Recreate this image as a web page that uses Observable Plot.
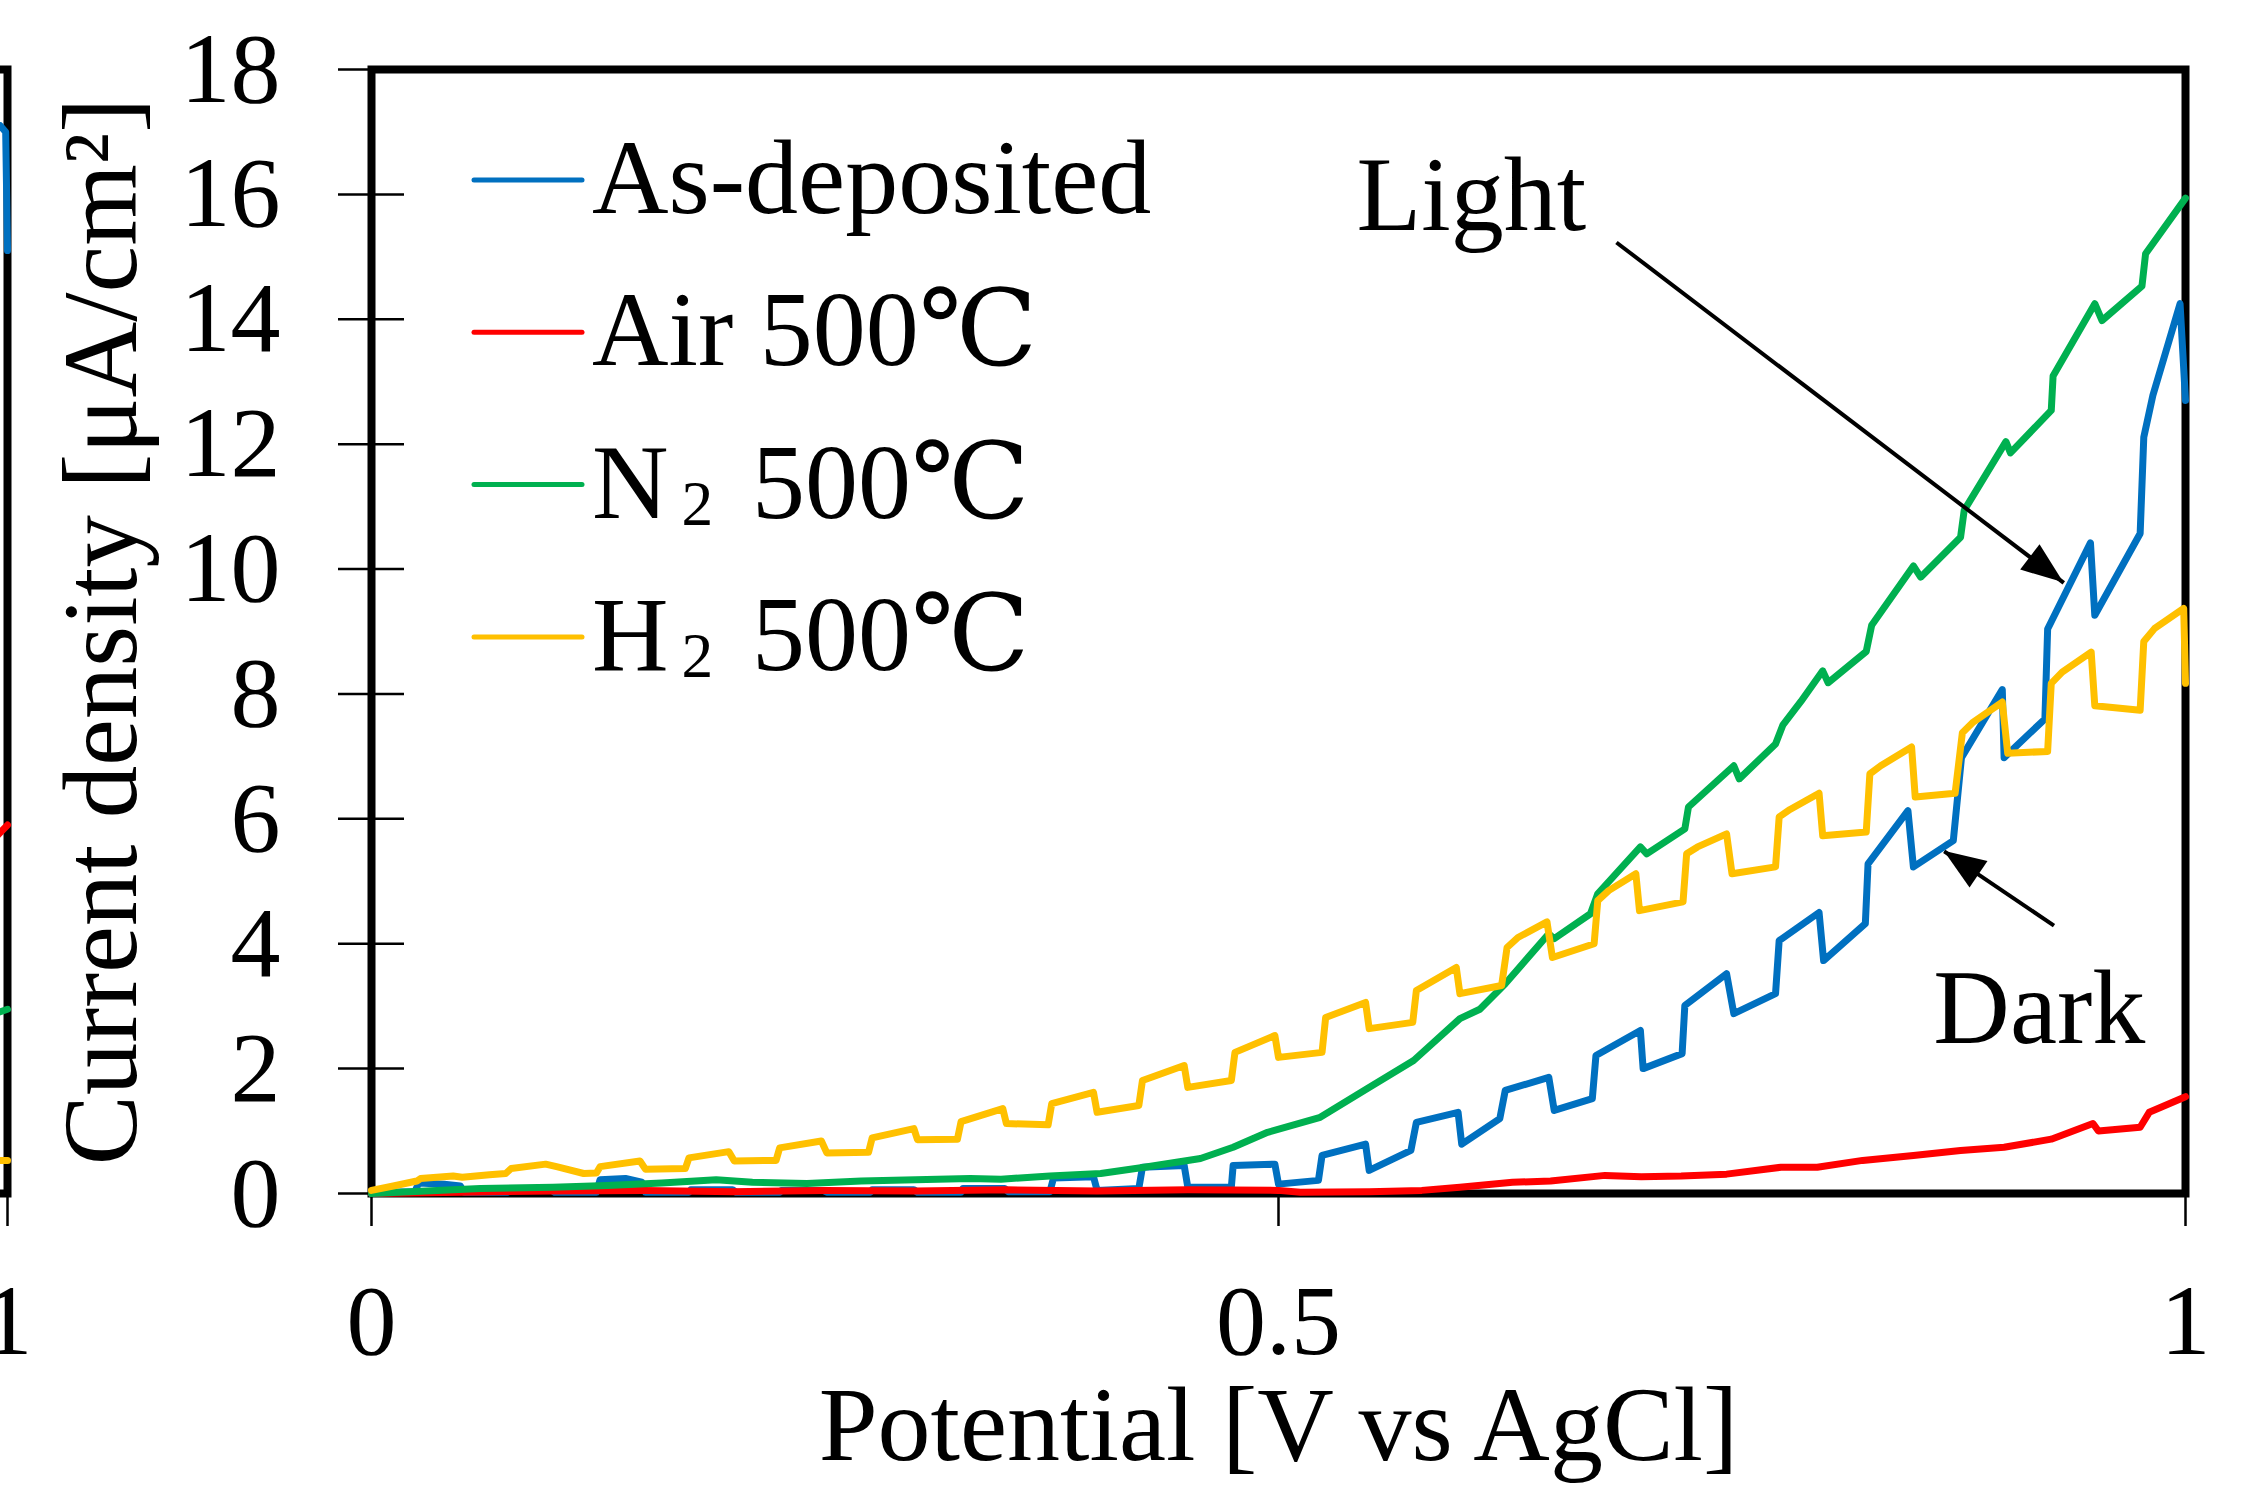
<!DOCTYPE html>
<html><head><meta charset="utf-8">
<script src="https://cdn.jsdelivr.net/npm/d3@7"></script>
<script src="https://cdn.jsdelivr.net/npm/@observablehq/plot@0.6"></script>
<style>
html,body{margin:0;padding:0;background:#fff;overflow:hidden;}
#wrap{position:relative;width:2254px;height:1485px;overflow:hidden;background:#fff;}
#wrap svg{position:absolute;top:0;left:0;}
</style></head><body><div id="wrap"></div>
<script>
// ---- data ----
const seriesNames = ["As-deposited", "Air 500℃", "N₂ 500℃", "H₂ 500℃"];
const seriesColors = ["#0070C0", "#FF0000", "#00B050", "#FFC000"];

// [potential V, current density µA/cm²]
const asDeposited = [
[0,0.0],[0.01,0.02],[0.024,0.03],[0.026,0.17],[0.04,0.15],[0.049,0.12],[0.051,0.02],
[0.075,0.02],[0.076,0.06],[0.099,0.06],[0.101,0.02],
[0.124,0.02],[0.126,0.22],[0.14,0.24],[0.149,0.18],[0.151,0.02],
[0.175,0.02],[0.176,0.06],[0.199,0.06],[0.201,0.02],
[0.225,0.02],[0.226,0.05],[0.249,0.05],[0.251,0.02],
[0.275,0.02],[0.276,0.06],[0.299,0.06],[0.301,0.02],
[0.325,0.02],[0.326,0.08],[0.349,0.08],[0.351,0.03],
[0.374,0.03],[0.376,0.25],[0.398,0.27],[0.4,0.05],
[0.423,0.08],[0.425,0.42],[0.448,0.45],[0.45,0.1],
[0.474,0.1],[0.475,0.45],[0.498,0.47],[0.5,0.15],
[0.522,0.21],[0.524,0.61],[0.548,0.79],[0.55,0.37],
[0.573,0.69],[0.576,1.14],[0.599,1.3],[0.601,0.79],
[0.622,1.2],[0.625,1.65],[0.649,1.86],[0.652,1.33],
[0.673,1.52],[0.675,2.21],[0.6995,2.61],[0.701,2.0],
[0.7225,2.24],[0.724,3.01],[0.747,3.52],[0.751,2.88],
[0.774,3.2],[0.776,4.05],[0.798,4.5],[0.8005,3.73],
[0.8235,4.32],[0.825,5.28],[0.847,6.13],[0.85,5.23],
[0.872,5.65],[0.8765,6.98],[0.899,8.07],[0.9,6.98],
[0.9225,7.6],[0.924,9.04],[0.9476,10.42],[0.95,9.26],
[0.975,10.57],[0.977,12.11],[0.982,12.78],[0.997,14.25],[1.0,12.7]
];
const air500 = [
[0,0.0],[0.05,0.02],[0.1,0.04],[0.15,0.05],[0.2,0.03],[0.25,0.05],[0.3,0.04],[0.35,0.06],
[0.4,0.04],[0.45,0.06],[0.5,0.05],[0.512,0.02],[0.55,0.03],[0.579,0.05],[0.6,0.1],
[0.629,0.18],[0.65,0.2],[0.68,0.29],[0.7,0.27],[0.722,0.28],[0.747,0.31],[0.777,0.42],
[0.797,0.42],[0.822,0.53],[0.85,0.61],[0.876,0.69],[0.9,0.74],[0.926,0.87],[0.949,1.12],
[0.952,1.0],[0.975,1.06],[0.98,1.3],[1.0,1.55]
];
const n2500 = [
[0,0.0],[0.03,0.04],[0.06,0.08],[0.1,0.1],[0.13,0.13],[0.16,0.17],[0.19,0.22],[0.21,0.18],
[0.24,0.16],[0.27,0.2],[0.3,0.22],[0.33,0.24],[0.347,0.23],[0.374,0.28],[0.402,0.32],
[0.426,0.42],[0.457,0.56],[0.475,0.74],[0.494,0.98],[0.523,1.22],[0.549,1.68],[0.5745,2.13],
[0.6,2.8],[0.611,2.95],[0.625,3.36],[0.649,4.16],[0.652,4.08],[0.672,4.48],[0.676,4.8],
[0.6995,5.55],[0.703,5.44],[0.724,5.84],[0.726,6.19],[0.751,6.85],[0.754,6.64],[0.774,7.2],
[0.778,7.5],[0.788,7.88],[0.8,8.37],[0.803,8.18],[0.824,8.68],[0.827,9.1],[0.85,10.05],
[0.854,9.87],[0.876,10.51],[0.878,10.94],[0.901,12.04],[0.9035,11.86],[0.926,12.54],
[0.927,13.09],[0.95,14.25],[0.954,13.98],[0.976,14.53],[0.978,15.05],[1.0,15.94]
];
const h2500 = [
[0,0.05],[0.012,0.12],[0.025,0.2],[0.027,0.24],[0.045,0.28],[0.05,0.26],[0.065,0.3],[0.074,0.32],
[0.077,0.4],[0.096,0.47],[0.102,0.43],[0.117,0.32],[0.124,0.33],[0.126,0.43],[0.148,0.52],
[0.151,0.39],[0.173,0.4],[0.175,0.57],[0.197,0.67],[0.2,0.52],[0.223,0.53],[0.225,0.73],
[0.248,0.84],[0.251,0.65],[0.274,0.66],[0.276,0.89],[0.299,1.04],[0.301,0.86],[0.323,0.87],
[0.325,1.15],[0.348,1.36],[0.35,1.12],[0.373,1.1],[0.375,1.44],[0.398,1.62],[0.4,1.3],
[0.423,1.41],[0.425,1.81],[0.448,2.05],[0.45,1.7],[0.474,1.81],[0.476,2.26],[0.498,2.53],
[0.5,2.18],[0.524,2.26],[0.526,2.82],[0.548,3.06],[0.55,2.64],[0.574,2.74],[0.576,3.25],
[0.598,3.62],[0.6,3.2],[0.623,3.33],[0.626,3.94],[0.632,4.1],[0.648,4.35],[0.651,3.78],
[0.674,4.0],[0.676,4.69],[0.682,4.85],[0.697,5.12],[0.699,4.53],[0.723,4.67],[0.725,5.44],
[0.731,5.55],[0.747,5.76],[0.75,5.12],[0.774,5.23],[0.776,6.03],[0.782,6.15],[0.798,6.41],
[0.8,5.73],[0.824,5.79],[0.826,6.72],[0.832,6.85],[0.849,7.15],[0.851,6.35],[0.873,6.41],
[0.877,7.38],[0.883,7.55],[0.899,7.87],[0.902,7.05],[0.924,7.08],[0.926,8.17],[0.932,8.35],
[0.948,8.67],[0.95,7.81],[0.975,7.74],[0.977,8.84],[0.983,9.05],[0.999,9.37],[1.0,8.17]
];

// neighbouring (cropped) panel: only its right edge is visible
const leftPanelEnds = [
[[0.996,17.1],[0.999,17.0],[1.0,15.1]],
[[0.99,5.6],[1.0,5.9]],
[[0.99,2.85],[1.0,2.95]],
[[0.99,0.53],[1.0,0.53]]
];

const xTicks = [0, 0.5, 1];
const xTickLabels = ["0", "0.5", "1"];
const yTicks = [0, 2, 4, 6, 8, 10, 12, 14, 16, 18];
const xLabel = "Potential [V vs AgCl]";
const yLabel = "Current density [μA/cm²]";
const annotations = [
  {text: "Light", x: 0.543, y: 15.97},
  {text: "Dark", x: 0.861, y: 2.96}
];
const arrows = [
  {x1: 0.6863, y1: 15.23, x2: 0.9329, y2: 9.78},
  {x1: 0.9275, y1: 4.29, x2: 0.867, y2: 5.48}
];

// ---- chart ----
const FONT = '"Liberation Serif", "DejaVu Serif", "Noto Sans CJK JP", serif';
const toRows = (list) => list.flatMap((pts, i) => pts.map(([v, j]) => ({series: seriesNames[i], v, j})));
const rows = toRows([asDeposited, air500, n2500, h2500]);
const leftRows = toRows(leftPanelEnds);

const layout = {
  width: 2254, height: 1485,
  marginLeft: 371, marginRight: 69, marginTop: 69, marginBottom: 292,
  x: {domain: [0, 1]},
  color: {domain: seriesNames, range: seriesColors},
  style: {fontFamily: FONT, fontSize: "100px", color: "#000", background: "transparent", overflow: "visible"}
};

const chart = Plot.plot({
  ...layout,
  y: {domain: [0, 18]},
  marks: [
    Plot.frame({stroke: "#000", strokeWidth: 8}),
    Plot.axisY({ticks: yTicks, tickSize: 66, dx: 33, fill: "none", strokeWidth: 2.5, label: null}),
    Plot.axisY({ticks: yTicks, tickSize: 0, tickPadding: 91, fontSize: 100, label: null, tickFormat: d => String(d)}),
    Plot.axisX({ticks: xTicks, tickSize: 33, tickPadding: 56, strokeWidth: 2.5, fontSize: 100, label: null,
      tickFormat: d => xTickLabels[xTicks.indexOf(d)]}),
    Plot.line(rows, {x: "v", y: "j", z: "series", stroke: "series", strokeWidth: 7,
      strokeLinejoin: "round", strokeLinecap: "round"}),
    Plot.link(arrows, {x1: "x1", y1: "y1", x2: "x2", y2: "y2", stroke: "#000", strokeWidth: 4}),
    Plot.text(annotations, {x: "x", y: "y", text: "text", textAnchor: "start", lineAnchor: "middle", fontSize: 106}),
    Plot.text([yLabel], {frameAnchor: "left", text: d => d, rotate: -90, dx: -269, fontSize: 105,
      textAnchor: "middle", lineAnchor: "middle"}),
    Plot.text([xLabel], {frameAnchor: "bottom", text: d => d, dy: 233, fontSize: 106,
      textAnchor: "middle", lineAnchor: "middle"})
  ]
});

// filled arrow heads, placed with the chart's own scales
const sx = chart.scale("x"), sy = chart.scale("y");
const svg = d3.select(chart);
arrows.forEach(a => {
  const x1 = sx.apply(a.x1), y1 = sy.apply(a.y1), x2 = sx.apply(a.x2), y2 = sy.apply(a.y2);
  const dx = x2 - x1, dy = y2 - y1, len = Math.hypot(dx, dy), ux = dx / len, uy = dy / len;
  const L = 42, W = 16;
  const bx = x2 - ux * L, by = y2 - uy * L;
  svg.append("polygon")
    .attr("points", [[x2, y2], [bx - uy * W, by + ux * W], [bx + uy * W, by - ux * W]].map(p => p.join(",")).join(" "))
    .attr("fill", "#000");
});

// legend inside the plot area (top-left)
const lg = svg.append("g").attr("font-family", FONT).attr("font-size", 106)
  .attr("fill", "#000").attr("text-anchor", "start");
seriesNames.forEach((name, i) => {
  const cy = 180 + i * 152.3;
  lg.append("line").attr("x1", 474).attr("x2", 582).attr("y1", cy).attr("y2", cy)
    .attr("stroke", seriesColors[i]).attr("stroke-width", 5).attr("stroke-linecap", "round");
  const t = lg.append("text").attr("x", 592).attr("y", cy + 33);
  const sub = name.indexOf("₂");
  if (sub >= 0) {
    t.append("tspan").text(name.slice(0, sub));
    t.append("tspan").attr("dx", 10).attr("dy", -14).text("₂");
    t.append("tspan").attr("dy", 14).text(" ");
    t.append("tspan").attr("dx", 10).text(name.slice(sub + 2));
  } else {
    t.text(name);
  }
});

// neighbouring panel sliver
const leftChart = Plot.plot({
  ...layout,
  y: {domain: [0, 18], axis: null},
  marks: [
    Plot.frame({stroke: "#000", strokeWidth: 8}),
    Plot.axisX({ticks: [1], tickSize: 33, tickPadding: 56, strokeWidth: 2.5, fontSize: 100, label: null, tickFormat: () => "1"}),
    Plot.line(leftRows, {x: "v", y: "j", z: "series", stroke: "series", strokeWidth: 7})
  ]
});
leftChart.style.left = (7 - 2185) + "px";

const wrap = document.getElementById("wrap");
wrap.appendChild(leftChart);
wrap.appendChild(chart);
</script></body></html>
